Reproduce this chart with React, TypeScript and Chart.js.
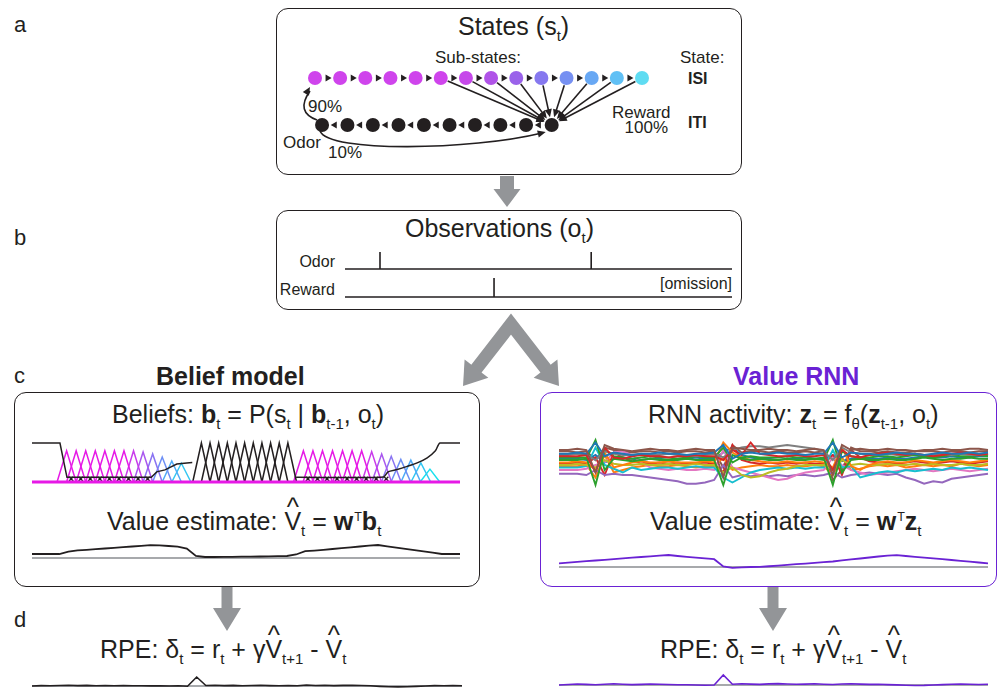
import React, { useEffect, useRef } from "react";
import { Chart, registerables } from "chart.js";

Chart.register(...registerables);

const FONT = '"Liberation Sans", Arial, Helvetica, sans-serif';
const INK = "#231f20";
const PURPLE = "#6a22d4";
const ARROW_GREY = "#939598";
const BASE_GREY = "#a7a9ac";
const MAGENTA = "#e619e6";

// ---------- shared trial timeline (sample steps) ----------
const T_MAX = 47;
const STEPS = Array.from({ length: T_MAX + 1 }, (_, i) => i);

// ---------- panel a : state space ----------
const ISI_SUBSTATES = [0, 1, 2, 3, 4, 5, 6, 7, 8, 9, 10, 11, 12, 13];
const ITI_SUBSTATES = [0.28, 1.29, 2.3, 3.32, 4.33, 5.35, 6.36, 7.37, 8.39, 9.41];
const REWARD_FROM = [5, 6, 7, 8, 9, 10, 11, 12, 13];
const NODE_COLORS = [
  "#cf44ec", "#cf44ec", "#cf44ec", "#cf44ec", "#cf44ec", "#cf44ec", "#c648ea",
  "#b053e8", "#9a62ea", "#8678ef", "#7690f2", "#68a8f4", "#60c0f5", "#5fdcf2",
];

// ---------- panel b : observations ----------
const ODOR_TIMES = [4.25, 29.9];
const REWARD_TIMES = [18.1];

// ---------- panel c : beliefs ----------
const ISI1_PEAKS = [3.8, 4.85, 5.9, 6.95, 8.0, 9.05, 10.1, 11.15, 12.2, 13.25, 14.3, 15.35, 16.4];
const ISI1_HEIGHTS = [0.8, 0.8, 0.8, 0.8, 0.8, 0.8, 0.8, 0.8, 0.77, 0.72, 0.64, 0.54, 0.48];
const ISI2_PEAKS = [29.8, 30.85, 31.9, 33.0, 34.1, 35.15, 36.2, 37.3, 38.4, 39.45, 40.5, 41.6, 42.7, 43.7];
const ISI2_HEIGHTS = [0.8, 0.8, 0.8, 0.8, 0.8, 0.8, 0.8, 0.78, 0.72, 0.66, 0.58, 0.56, 0.49, 0.33];
const ITI_PEAKS = [18.6, 19.55, 20.5, 21.45, 22.4, 23.35, 24.3, 25.25, 26.2, 27.15, 28.1];
const ITI_BELIEF_1_T = [0, 3.07, 3.84, 13.1, 13.7, 14.6, 15.9, 17.0, 17.6];
const ITI_BELIEF_1_V = [1, 1, 0.12, 0.12, 0.26, 0.31, 0.46, 0.49, 0.5];
const ITI_BELIEF_2_T = [29.0, 38.6, 39.1, 40.1, 41.2, 42.3, 43.4, 44.3, 44.8, 47];
const ITI_BELIEF_2_V = [0.12, 0.13, 0.26, 0.32, 0.4, 0.49, 0.62, 0.8, 1.0, 1.0];
const BELIEF_COLORS = [
  MAGENTA, MAGENTA, MAGENTA, MAGENTA, MAGENTA, MAGENTA, MAGENTA,
  "#c93aeb", "#a958ef", "#8a74f2", "#6d8ff5", "#4fabf7", "#33c6f2", "#1ae0ee",
];

const VALUE_BELIEF = [
  4, 4, 4, 4, 6.3, 7.6, 8.2, 8.8, 9.5, 10.2, 10.8, 11.5,
  12.1, 12.8, 12.7, 12.0, 11.4, 9.5, 2, 1, 1.0, 1.1, 1.2, 1.3,
  1.4, 1.5, 1.6, 1.8, 2.0, 3.5, 6.8, 7.4, 8.2, 9.0, 9.8, 10.6,
  11.5, 12.3, 13, 11.7, 10.4, 9.2, 7.9, 6.6, 5.3, 4.0, 4, 4,
];

// ---------- panel c : value RNN ----------
const RNN_UNITS = [
  [10, 10, 11, 10, -8, 14, 11, 10, 9, 10, 11, 10, 10, 9, 10, 11, 10, 10, -12, 12, 11, 10, 10, 11, 10, 10, 9, 10, 11, 10, -10, 14, 10, 11, 10, 10, 11, 10, 10, 9, 10, 10, 11, 10, 10, 11, 11, 10],
  [7, 7, 8, 7, 16, 5, 8, 7, 6, 7, 7, 8, 7, 7, 6, 7, 7, 8, 14, 3, 7, 8, 7, 7, 8, 7, 7, 6, 7, 7, 16, 4, 8, 7, 7, 6, 7, 8, 7, 7, 6, 7, 8, 7, 7, 8, 7, 8],
  [5, 5, 5, 6, -8, 12, 4, 3, 5, 6, 5, 5, 4, 5, 5, 6, 5, 5, 2, 10, 6, 16, 7, 6, 5, 5, 6, 5, 5, 6, -6, 10, 5, 4, 6, 7, 8, 7, 6, 7, 6, 5, 6, 7, 8, 7, 6, 7],
  [6, 6, 7, 6, 2, 9, 7, 6, 6, 7, 6, 6, 7, 6, 6, 5, 6, 7, 4, 10, 12, 13, 13, 12, 13, 14, 13, 12, 11, 9, 2, 12, 8, 7, 6, 6, 7, 6, 6, 7, 6, 6, 7, 6, 7, 6, 6, 7],
  [2, 2, 2, 3, 18, -6, 3, 2, 1, 2, 3, 2, 2, 2, 3, 2, 2, 2, -18, 6, 3, 2, 3, 2, 2, 3, 2, 2, 3, 2, 18, -8, 2, 3, 2, 2, 3, 2, 2, 3, 4, 3, 2, 3, 3, 4, 3, 3],
  [4, 4, 4, 4, -18, 10, 5, 4, 3, 4, 5, 4, 4, 3, 4, 5, 4, 4, 12, 0, 4, 5, 4, 4, 4, 5, 4, 4, 3, 4, -18, 9, 5, 4, 4, 5, 5, 4, 5, 6, 5, 4, 5, 6, 5, 5, 6, 5],
  [0, 0, 1, 0, -6, 8, -4, -2, 0, 1, 0, 0, 1, 0, 0, 0, 1, 0, 16, 8, 4, 2, 1, 0, 0, 1, 0, 0, 1, 0, -4, 12, -3, -6, -2, 0, 1, 0, 0, 2, 1, 0, 1, 2, 1, 0, 1, 2],
  [-2, -2, -1, -2, -4, 2, -1, -2, -2, -1, -2, -2, -1, -2, -2, -1, -2, -2, -8, -4, -10, -12, -11, -8, -6, -5, -3, -2, -2, -2, -6, 2, -2, -1, -2, -2, -1, -2, -2, -1, -2, -1, -2, -2, -1, -2, -2, -1],
  [-4, -4, -4, -3, 12, -2, -5, -8, -4, -6, -5, -4, -4, -5, -4, -3, -4, -4, -12, -16, -12, -8, -6, -5, -4, -5, -4, -5, -4, -4, 10, -4, -3, -12, -10, -8, -7, -8, -6, -7, -6, -5, -6, -4, -5, -4, -5, -6],
  [-6, -6, -6, -5, -2, 0, 8, 9, 6, 0, -4, -5, -6, -5, -6, -6, -5, -6, 10, -4, -6, -8, -10, -12, -14, -13, -10, -8, -7, -6, 4, -2, -6, -8, -10, -9, -8, -7, -6, -5, -6, -7, -6, -5, -6, -7, -6, -5],
  [-9, -9, -9, -10, -6, -10, -9, -10, -10, -11, -12, -13, -14, -15, -17, -17, -16, -14, -2, -12, -10, -11, -10, -11, -10, -11, -10, -10, -11, -10, -8, -12, -10, -9, -8, -9, -10, -9, -12, -14, -17, -15, -16, -13, -12, -11, -10, -9],
  [-1, -1, 0, -1, 4, -10, 8, 4, 1, 0, -1, 0, -1, 0, -1, -1, 0, -1, -8, 14, 2, 0, -1, 0, -1, 0, -1, 0, -1, -1, 6, -10, 10, 4, 1, 0, 0, -1, 0, 1, 0, -1, 0, 1, 0, -1, 0, 1],
  [3, 3, 3, 2, 6, 0, 3, 4, 3, 2, 3, 3, 2, 3, 3, 4, 3, 3, 8, 12, 6, 4, 3, 3, 2, 3, 3, 4, 3, 3, 6, 1, 3, 4, 3, 3, 4, 3, 3, 4, 5, 4, 4, 5, 4, 4, 5, 5],
  [-3, -3, -3, -2, -12, 6, -8, -6, -4, -3, -2, -3, -3, -2, -3, -4, -3, -3, 4, -6, -4, -3, -2, -3, -3, -2, -3, -3, -2, -3, -10, 4, -6, -5, -3, -2, -3, -2, -4, -3, -2, -3, -2, -3, -1, -2, -3, -2],
  [9, 9, 8, 9, 2, 12, 10, 9, 8, 9, 9, 8, 9, 8, 9, 9, 8, 9, -4, 14, 8, 9, 9, 8, 9, 8, 8, 9, 8, 9, -14, -6, 12, 9, 9, 8, 9, 8, 8, 9, 9, 9, 8, 9, 9, 8, 9, 9],
];
const RNN_COLORS = [
  "#8c564b", "#1f77b4", "#d62728", "#7f7f7f", "#2ca02c", "#2ca02c", "#ff7f0e", "#bcbd22",
  "#17becf", "#e377c2", "#9467bd", "#d62728", "#1f77b4", "#ff7f0e", "#8c564b",
];
const VALUE_RNN = [
  3.7, 4.4, 5.1, 5.8, 6.5, 7.2, 7.9, 8.6, 9.3, 10.0, 10.7, 11.4,
  12, 11.0, 10.2, 9.4, 8.6, 7.8, 0.5, -0.8, -0.4, 0, 0.2, 0.75,
  1.4, 2.1, 2.8, 3.4, 4.1, 4.8, 5.5, 6.6, 7.6, 8.5, 9.5, 10.5,
  11.4, 11.8, 11.0, 10.2, 9.4, 8.6, 7.8, 7.0, 6.2, 5.4, 4.5, 3.7,
];

// ---------- panel d : RPEs ----------
const RPE_BELIEF = [
  0, 0.4, 0.2, 0.5, 0.8, 0.4, 0.6, 0.3, 0.5, 0.2, 0.4, 0.3,
  0.2, 0.1, 0.3, 0, 0.2, -0.3, 9, 0.5, 0.8, 0.4, 0.6, 0.3,
  0.5, 0.7, 0.4, 0.2, 0.5, 0.3, 1, 0.5, 0.7, 0.4, 0.6, 0.8,
  0.5, 0.2, -0.4, -0.8, -0.9, -0.7, -0.4, 0, 0.4, 0.2, 0.4, 0.3,
];
const RPE_RNN = [
  0, 0.5, 1, 0.6, 0.3, 0.8, 1.2, 0.7, 0.4, 0.6, 1, 0.8,
  0.5, 0.3, 0.2, 0, -0.2, 0, 10, 0.8, 1.2, 0.9, 0.6, 1.1,
  1.4, 1.0, 0.7, 0.9, 1.2, 0.8, 0.5, 1.0, 1.3, 0.9, 0.6, 0.8,
  0.4, 0.1, -0.3, -0.5, -0.4, 0, 0.4, 0.8, 1.0, 0.7, 0.5, 0.8,
];

// ---------- helpers ----------
const xy = (xs: number[], ys: number[]) => xs.map((x, i) => ({ x, y: ys[i] }));
const lineDs = (data: any[], color: string, width: number, extra: any = {}) => ({
  type: "line",
  data,
  borderColor: color,
  backgroundColor: color,
  borderWidth: width,
  pointRadius: 0,
  tension: 0,
  fill: false,
  clip: false,
  ...extra,
});
const scales = (xmin: number, xmax: number, ymin: number, ymax: number) => ({
  x: { type: "linear", display: false, min: xmin, max: xmax },
  y: { type: "linear", display: false, min: ymin, max: ymax },
});
const tri = (p: number, h: number, hw: number) => [
  { x: p - hw, y: 0 },
  { x: p, y: h },
  { x: p + hw, y: 0 },
];
const flat = (y: number) => [
  { x: 0, y },
  { x: T_MAX, y },
];
const eventTrace = (times: number[], base: number, top: number) => {
  const pts: any[] = [{ x: 0, y: base }];
  times.forEach((t) => pts.push({ x: t, y: base }, { x: t, y: top }, { x: t, y: base }));
  pts.push({ x: T_MAX, y: base });
  return pts;
};

type Area = { x: number; y: number; w: number; h: number };

function MiniChart({ area, pad = 10, make }: { area: Area; pad?: number; make: () => any }) {
  const ref = useRef<HTMLCanvasElement>(null);
  useEffect(() => {
    const cfg = make();
    cfg.options = {
      ...(cfg.options || {}),
      responsive: false,
      maintainAspectRatio: false,
      animation: false,
      events: [],
      layout: { padding: pad },
      plugins: { legend: { display: false }, tooltip: { enabled: false }, title: { display: false } },
    };
    const chart = new Chart(ref.current as HTMLCanvasElement, cfg);
    return () => chart.destroy();
  }, []);
  const W = area.w + 2 * pad;
  const H = area.h + 2 * pad;
  return (
    <canvas
      ref={ref}
      width={W}
      height={H}
      style={{ position: "absolute", left: area.x - pad, top: area.y - pad, width: W, height: H }}
    />
  );
}

// ---------- chart configs ----------
function arrowHead(ctx: CanvasRenderingContext2D, x: number, y: number, ang: number, len = 8, half = 3.6) {
  const c = Math.cos(ang);
  const s = Math.sin(ang);
  ctx.beginPath();
  ctx.moveTo(x, y);
  ctx.lineTo(x - len * c + half * s, y - len * s - half * c);
  ctx.lineTo(x - len * c - half * s, y - len * s + half * c);
  ctx.closePath();
  ctx.fill();
}

const stateArrows = {
  id: "stateArrows",
  beforeDatasetsDraw(chart: any) {
    const { ctx } = chart;
    const sx = chart.scales.x;
    const sy = chart.scales.y;
    const px = (v: number) => sx.getPixelForValue(v);
    const py = (v: number) => sy.getPixelForValue(v);
    ctx.save();
    ctx.strokeStyle = INK;
    ctx.fillStyle = INK;
    ctx.lineWidth = 1.6;
    const tx = px(ITI_SUBSTATES[ITI_SUBSTATES.length - 1]);
    const ty = py(0);
    REWARD_FROM.forEach((k) => {
      const x0 = px(k);
      const y0 = py(1);
      const ang = Math.atan2(ty - y0, tx - x0);
      const c = Math.cos(ang);
      const s = Math.sin(ang);
      const tipX = tx - c * 8;
      const tipY = ty - s * 8;
      ctx.beginPath();
      ctx.moveTo(x0 + c * 7.5, y0 + s * 7.5);
      ctx.lineTo(tipX - c * 5, tipY - s * 5);
      ctx.stroke();
      arrowHead(ctx, tipX, tipY, ang);
    });
    // odor: ITI -> ISI (90%)
    const ix = px(ITI_SUBSTATES[0]);
    const iy = py(0);
    const qx = px(ISI_SUBSTATES[0]);
    const qy = py(1);
    const p0 = [ix - 5, iy - 5];
    const p1 = [ix - 27, iy - 13];
    const p2 = [qx - 5, qy + 9];
    ctx.beginPath();
    ctx.moveTo(p0[0], p0[1]);
    ctx.quadraticCurveTo(p1[0], p1[1], p2[0], p2[1] + 4);
    ctx.stroke();
    arrowHead(ctx, p2[0], p2[1], Math.atan2(p2[1] - p1[1], p2[0] - p1[0]));
    // odor: ITI -> end of ITI (10%)
    const a0 = [ix - 2, iy + 6];
    const a1 = [ix + 6, iy + 28];
    const a2 = [ix + 150, iy + 25];
    const a3 = [tx - 6, ty + 7];
    const ang = Math.atan2(a3[1] - a2[1], a3[0] - a2[0]);
    ctx.beginPath();
    ctx.moveTo(a0[0], a0[1]);
    ctx.bezierCurveTo(a1[0], a1[1], a2[0], a2[1], a3[0] - Math.cos(ang) * 5, a3[1] - Math.sin(ang) * 5);
    ctx.stroke();
    arrowHead(ctx, a3[0], a3[1], ang);
    ctx.restore();
  },
};

const statesConfig = () => ({
  type: "scatter",
  data: {
    datasets: [
      {
        data: ISI_SUBSTATES.map((k) => ({ x: k, y: 1 })),
        pointRadius: 7,
        pointBackgroundColor: NODE_COLORS,
        pointBorderWidth: 0,
        clip: false,
      },
      {
        data: ITI_SUBSTATES.map((x) => ({ x, y: 0 })),
        pointRadius: 7,
        pointBackgroundColor: INK,
        pointBorderWidth: 0,
        clip: false,
      },
      {
        data: ISI_SUBSTATES.slice(1).map((k, i) => ({ x: (k + ISI_SUBSTATES[i]) / 2, y: 1 })),
        pointStyle: "triangle",
        rotation: 90,
        pointRadius: 4,
        pointBackgroundColor: INK,
        pointBorderWidth: 0,
        clip: false,
      },
      {
        data: ITI_SUBSTATES.slice(1).map((x, i) => ({ x: (x + ITI_SUBSTATES[i]) / 2, y: 0 })),
        pointStyle: "triangle",
        rotation: -90,
        pointRadius: 4,
        pointBackgroundColor: INK,
        pointBorderWidth: 0,
        clip: false,
      },
    ],
  },
  options: { scales: scales(0, 13, 0, 1) },
  plugins: [stateArrows],
});

const obsConfig = () => ({
  type: "line",
  data: {
    datasets: [
      lineDs(eventTrace(ODOR_TIMES, 31, 48), INK, 1.6),
      lineDs(eventTrace(REWARD_TIMES, 3, 22), INK, 1.6),
    ],
  },
  options: { scales: scales(0, T_MAX, 0, 55) },
});

const beliefConfig = () => {
  const ds: any[] = [];
  ds.push(lineDs(flat(0), MAGENTA, 3, { order: 0 }));
  ds.push(
    lineDs(xy(ITI_BELIEF_1_T, ITI_BELIEF_1_V), INK, 1.5, { order: 1 }),
    lineDs(xy(ITI_BELIEF_2_T, ITI_BELIEF_2_V), INK, 1.5, { order: 1, tension: 0.25 })
  );
  const marks = [
    ...ISI1_PEAKS.slice(0, 9).map((p) => ({ x: p + 0.5, y: 0.08 })),
    ...ISI2_PEAKS.slice(0, 9).map((p) => ({ x: p + 0.5, y: 0.08 })),
  ];
  ds.push({
    type: "scatter",
    data: marks,
    pointStyle: "crossRot",
    pointRadius: 3,
    borderColor: INK,
    pointBorderWidth: 1.3,
    order: 1,
    clip: false,
  });
  ITI_PEAKS.forEach((p) => ds.push(lineDs(tri(p, 1, 0.95), INK, 1.5, { order: 2 })));
  ISI1_PEAKS.forEach((p, i) => ds.push(lineDs(tri(p, ISI1_HEIGHTS[i], 1.05), BELIEF_COLORS[i], 1.5, { order: 3 })));
  ISI2_PEAKS.forEach((p, i) => ds.push(lineDs(tri(p, ISI2_HEIGHTS[i], 1.08), BELIEF_COLORS[i], 1.5, { order: 3 })));
  return { type: "line", data: { datasets: ds }, options: { scales: scales(0, T_MAX, 0, 1) } };
};

const valueConfig = (vals: number[], color: string) => () => ({
  type: "line",
  data: {
    datasets: [
      lineDs(xy(STEPS, vals), color, 1.8, { order: 0 }),
      lineDs(flat(0), BASE_GREY, 2, { order: 1 }),
    ],
  },
  options: { scales: scales(0, T_MAX, -3, 17) },
});

const rpeConfig = (vals: number[], color: string) => () => ({
  type: "line",
  data: {
    datasets: [
      lineDs(xy(STEPS, vals), color, 1.6, { order: 0 }),
      lineDs(flat(0), BASE_GREY, 2.2, { order: 1 }),
    ],
  },
  options: { scales: scales(0, T_MAX, -5, 15) },
});

const rnnConfig = () => ({
  type: "line",
  data: {
    datasets: RNN_UNITS.map((u, i) => lineDs(xy(STEPS, u), RNN_COLORS[i], 1.9)),
  },
  options: { scales: scales(0, T_MAX, -18, 18) },
});

// ---------- text helpers ----------
function Label({
  x,
  y,
  size = 17,
  align = "left",
  bold = false,
  color = INK,
  children,
}: {
  x: number;
  y: number;
  size?: number;
  align?: string;
  bold?: boolean;
  color?: string;
  children?: any;
}) {
  const tx = align === "center" ? "-50%" : align === "right" ? "-100%" : "0";
  return (
    <div
      style={{
        position: "absolute",
        left: x,
        top: y - 0.8465 * size,
        fontSize: size,
        lineHeight: `${size}px`,
        fontWeight: bold ? 700 : 400,
        color,
        whiteSpace: "nowrap",
        transform: `translateX(${tx})`,
        fontFamily: FONT,
      }}
    >
      {children}
    </div>
  );
}
const Sub = ({ children }: any) => (
  <span style={{ fontSize: "0.6em", position: "relative", top: "0.42em", lineHeight: 1 }}>{children}</span>
);
const Sup = ({ children }: any) => (
  <span style={{ fontSize: "0.5em", position: "relative", top: "-0.7em", lineHeight: 1, marginLeft: 1 }}>{children}</span>
);
const Bf = ({ children }: any) => <span style={{ fontWeight: 700 }}>{children}</span>;
const Hat = ({ children }: any) => (
  <span style={{ position: "relative", display: "inline-block" }}>
    {children}
    <span
      style={{
        position: "absolute",
        left: "50%",
        top: -15,
        transform: "translateX(-50%)",
        fontSize: 26,
        lineHeight: "26px",
      }}
    >
      ^
    </span>
  </span>
);

function Box({ x, y, w, h, color = INK }: { x: number; y: number; w: number; h: number; color?: string }) {
  return (
    <div
      style={{
        position: "absolute",
        left: x,
        top: y,
        width: w,
        height: h,
        border: `1.6px solid ${color}`,
        borderRadius: 12,
        boxSizing: "border-box",
      }}
    />
  );
}

// ---------- block arrows ----------
const downArrow = (cx: number, y0: number, y1: number, y2: number, sh: number, hh: number) =>
  [
    [cx - sh, y0],
    [cx + sh, y0],
    [cx + sh, y1],
    [cx + hh, y1],
    [cx, y2],
    [cx - hh, y1],
    [cx - sh, y1],
  ]
    .map((p) => p.join(","))
    .join(" ");

function splitArrow(apex: number[], tip: number[], len = 22, half = 15) {
  const dx = tip[0] - apex[0];
  const dy = tip[1] - apex[1];
  const L = Math.hypot(dx, dy);
  const ux = dx / L;
  const uy = dy / L;
  const bx = tip[0] - ux * len;
  const by = tip[1] - uy * len;
  const head = [
    [tip[0], tip[1]],
    [bx - uy * half, by + ux * half],
    [bx + uy * half, by - ux * half],
  ]
    .map((p) => p.join(","))
    .join(" ");
  return { base: [bx + ux * 1, by + uy * 1], head };
}

function BlockArrows() {
  const apex = [511, 324];
  const L = splitArrow(apex, [463, 386]);
  const R = splitArrow(apex, [559, 386]);
  return (
    <svg width={998} height={689} style={{ position: "absolute", left: 0, top: 0 }}>
      <polygon points={downArrow(507, 176, 189, 207, 7, 13.5)} fill={ARROW_GREY} />
      <polyline
        points={`${L.base[0]},${L.base[1]} ${apex[0]},${apex[1]} ${R.base[0]},${R.base[1]}`}
        fill="none"
        stroke={ARROW_GREY}
        strokeWidth={13}
        strokeLinejoin="miter"
      />
      <polygon points={L.head} fill={ARROW_GREY} />
      <polygon points={R.head} fill={ARROW_GREY} />
      <polygon points={downArrow(227, 587, 608, 631, 5.5, 14)} fill={ARROW_GREY} />
      <polygon points={downArrow(773, 587, 608, 631, 5.5, 14)} fill={ARROW_GREY} />
    </svg>
  );
}

export default function App() {
  return (
    <div
      style={{
        position: "fixed",
        left: 0,
        top: 0,
        width: 998,
        height: 689,
        overflow: "hidden",
        background: "#ffffff",
        fontFamily: FONT,
        color: INK,
      }}
    >
      <BlockArrows />

      {/* boxes */}
      <Box x={276} y={8} w={466} h={167} />
      <Box x={276} y={210} w={466} h={100} />
      <Box x={14} y={392} w={466} h={195} />
      <Box x={540} y={392} w={457} h={195} color={PURPLE} />

      {/* panel letters */}
      <Label x={14} y={33} size={22}>a</Label>
      <Label x={14} y={246} size={22}>b</Label>
      <Label x={14} y={384} size={22}>c</Label>
      <Label x={14} y={628} size={22}>d</Label>

      {/* panel a */}
      <Label x={458} y={35} size={25}>
        States (s<Sub>t</Sub>)
      </Label>
      <Label x={435} y={63}>Sub-states:</Label>
      <Label x={680} y={63}>State:</Label>
      <Label x={688} y={85} size={16} bold>ISI</Label>
      <Label x={688} y={129} size={16} bold>ITI</Label>
      <Label x={308} y={112}>90%</Label>
      <Label x={283} y={148}>Odor</Label>
      <Label x={328} y={158}>10%</Label>
      <Label x={612} y={118}>Reward</Label>
      <Label x={668} y={133} align="right">100%</Label>
      <MiniChart area={{ x: 315, y: 78, w: 327, h: 47 }} pad={30} make={statesConfig} />

      {/* panel b */}
      <Label x={405} y={237} size={25}>
        Observations (o<Sub>t</Sub>)
      </Label>
      <Label x={335} y={268} size={16} align="right">Odor</Label>
      <Label x={335} y={296} size={16} align="right">Reward</Label>
      <Label x={732} y={290} size={16} align="right">[omission]</Label>
      <MiniChart area={{ x: 345, y: 245, w: 387, h: 55 }} pad={6} make={obsConfig} />

      {/* panel c titles */}
      <Label x={156} y={385} size={25} bold>Belief model</Label>
      <Label x={733} y={385} size={25} bold color={PURPLE}>Value RNN</Label>

      {/* belief model */}
      <Label x={112} y={423} size={25}>
        Beliefs: <Bf>b</Bf>
        <Sub>t</Sub> = P(s<Sub>t</Sub> | <Bf>b</Bf>
        <Sub>t-1</Sub>, o<Sub>t</Sub>)
      </Label>
      <MiniChart area={{ x: 32, y: 443, w: 428, h: 39 }} pad={6} make={beliefConfig} />
      <Label x={107} y={530} size={25}>
        Value estimate: <Hat>V</Hat>
        <Sub>t</Sub> = <Bf>w</Bf>
        <Sup>T</Sup>
        <Bf>b</Bf>
        <Sub>t</Sub>
      </Label>
      <MiniChart area={{ x: 32, y: 541, w: 428, h: 20 }} pad={4} make={valueConfig(VALUE_BELIEF, INK)} />

      {/* value RNN */}
      <Label x={648} y={423} size={25}>
        RNN activity: <Bf>z</Bf>
        <Sub>t</Sub> = f<Sub>θ</Sub>(<Bf>z</Bf>
        <Sub>t-1</Sub>, o<Sub>t</Sub>)
      </Label>
      <MiniChart area={{ x: 559, y: 440, w: 429, h: 45 }} pad={4} make={rnnConfig} />
      <Label x={650} y={530} size={25}>
        Value estimate: <Hat>V</Hat>
        <Sub>t</Sub> = <Bf>w</Bf>
        <Sup>T</Sup>
        <Bf>z</Bf>
        <Sub>t</Sub>
      </Label>
      <MiniChart area={{ x: 559, y: 550, w: 429, h: 20 }} pad={4} make={valueConfig(VALUE_RNN, PURPLE)} />

      {/* panel d */}
      <Label x={100} y={658} size={25}>
        RPE: δ<Sub>t</Sub> = r<Sub>t</Sub> + γ<Hat>V</Hat>
        <Sub>t+1</Sub> - <Hat>V</Hat>
        <Sub>t</Sub>
      </Label>
      <MiniChart area={{ x: 32, y: 671, w: 430, h: 20 }} pad={4} make={rpeConfig(RPE_BELIEF, INK)} />
      <Label x={660} y={658} size={25}>
        RPE: δ<Sub>t</Sub> = r<Sub>t</Sub> + γ<Hat>V</Hat>
        <Sub>t+1</Sub> - <Hat>V</Hat>
        <Sub>t</Sub>
      </Label>
      <MiniChart area={{ x: 559, y: 670, w: 429, h: 20 }} pad={4} make={rpeConfig(RPE_RNN, PURPLE)} />
    </div>
  );
}
